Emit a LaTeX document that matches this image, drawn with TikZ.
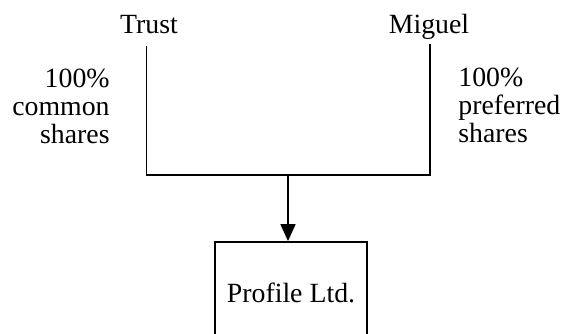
\documentclass[tikz,border=0pt]{standalone}
\usepackage{fontspec}
\setmainfont{Liberation Serif}
\usetikzlibrary{positioning,arrows.meta,calc}
\tikzset{
  flow/.style={-{Triangle[length=8.5pt,width=7.5pt]},line width=0.9pt,draw=black},
  link/.style={line width=0.9pt,draw=black},
  owner/.style={inner sep=0pt,font=\fontsize{13.9}{13.8}\selectfont,text depth=0pt},
  share/.style={inner sep=0pt,font=\fontsize{13.9}{13.8}\selectfont},
  box/.style={draw=black,line width=0.9pt,minimum width=76pt,minimum height=51pt,
    align=center,font=\fontsize{13.9}{13.8}\selectfont}
}
\begin{document}
\begin{tikzpicture}[x=0.5pt,y=-0.5pt]
  \useasboundingbox (0,0) rectangle (563,333);
  \node[owner,anchor=base] (trust) at (149,33) {Trust};
  \node[owner,anchor=base] (miguel) at (429,33) {Miguel};
  \coordinate (trusttop) at (146.5,46);
  \coordinate (migueltop) at (430,44);
  \coordinate (join) at (288,175);
  \node[box] (profile) at (291,293) {Profile Ltd.};
  \node[share,anchor=north east,align=right] (common) at (110,69) {100\%\\common\\shares};
  \node[share,anchor=north west,align=left] (preferred) at (458,68) {100\%\\preferred\\shares};
  % ownership lines
  \draw[link] (trusttop) |- (join) -| (migueltop);
  \draw[flow] (join) -- (join |- profile.north);
\end{tikzpicture}
\end{document}
